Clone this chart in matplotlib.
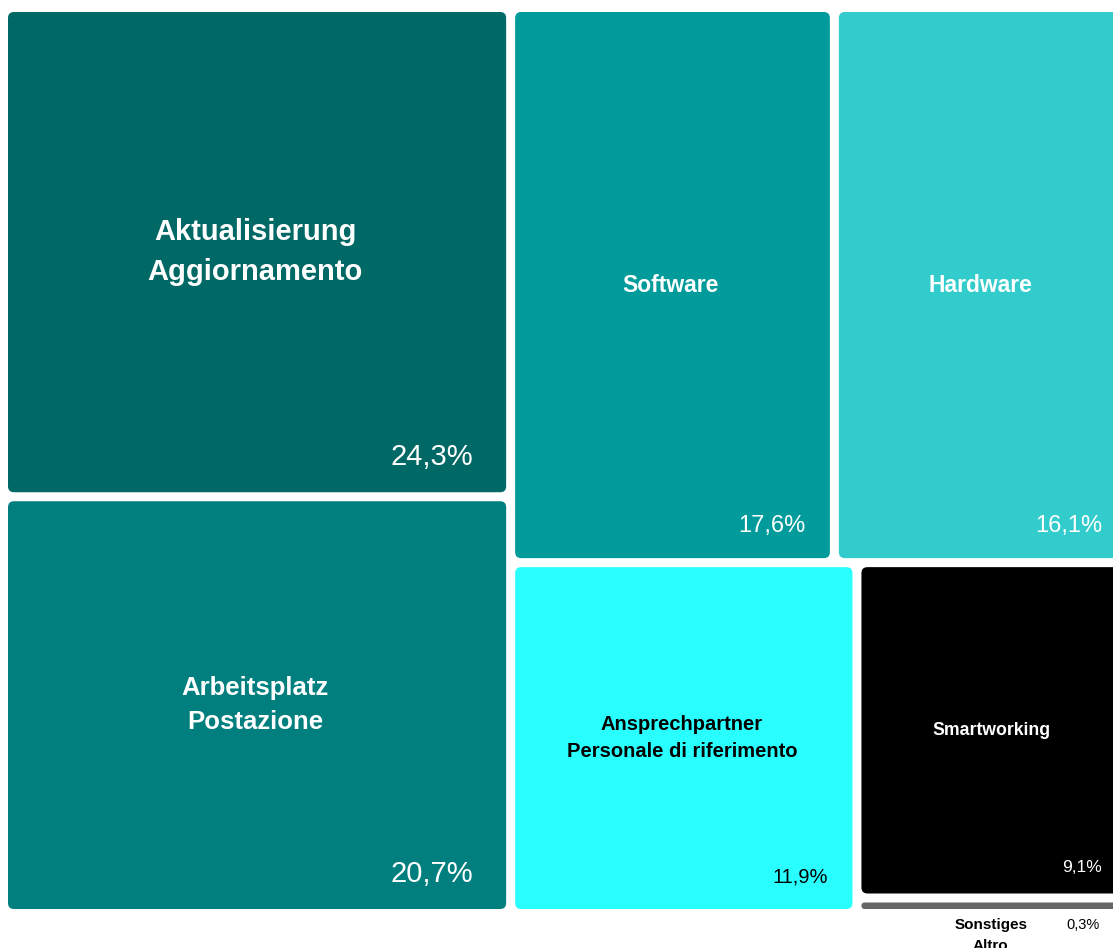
import matplotlib
matplotlib.use("Agg")
import matplotlib.pyplot as plt
from matplotlib.patches import FancyBboxPatch

plt.rcParams['font.family'] = ['Liberation Sans', 'DejaVu Sans']

# categories (German / Italian) and shares in percent
labels = [
    "Aktualisierung\nAggiornamento",
    "Arbeitsplatz\nPostazione",
    "Software",
    "Hardware",
    "Ansprechpartner\nPersonale di riferimento",
    "Smartworking",
    "Sonstiges\nAltro",
]
values = [24.3, 20.7, 17.6, 16.1, 11.9, 9.1, 0.3]
pct_labels = ["24,3%", "20,7%", "17,6%", "16,1%", "11,9%", "9,1%", "0,3%"]

colors = ["#006865", "#007f7e", "#009b9a", "#33cccc", "#2affff", "#000000", "#666666"]
text_colors = ["white", "white", "white", "white", "black", "white", "black"]
name_sizes = [21, 18.5, 16.5, 16.5, 14.5, 12.7, 11]
pct_sizes = [21, 21, 17, 17, 14.5, 12.5, 10.5]

# tree structure: (direction, children); leaves are indices into values
# "h" splits along x, "v" splits along y
tree = ("h", [
    ("v", [0, 1]),
    ("v", [
        ("h", [2, 3]),
        ("h", [4, ("v", [5, 6])]),
    ]),
])

MIN_CELL = 15.5  # smallest cell so tiny shares stay visible


def total(node):
    if isinstance(node, int):
        return values[node]
    return sum(total(c) for c in node[1])


def layout(node, x, y, w, h, out):
    if isinstance(node, int):
        out[node] = (x, y, w, h)
        return
    direction, children = node
    sums = [total(c) for c in children]
    length = w if direction == "h" else h
    sizes = [length * s / sum(sums) for s in sums]
    short = sum(max(0, MIN_CELL - s) for s in sizes)
    big = sum(s for s in sizes if s >= MIN_CELL)
    sizes = [MIN_CELL if s < MIN_CELL else s - short * s / big for s in sizes]
    pos = x if direction == "h" else y
    for child, size in zip(children, sizes):
        if direction == "h":
            layout(child, pos, y, size, h, out)
        else:
            layout(child, x, pos, w, size, out)
        pos += size


fig = plt.figure(figsize=(11.13, 9.48), dpi=100)
ax = fig.add_axes([0, 0, 1, 1])
ax.set_xlim(0, 1113)
ax.set_ylim(948, 0)
ax.axis("off")

cells = {}
layout(tree, 3.5, 7.5, 1127, 906, cells)

pad = 4.5
for i in range(len(values)):
    x, y, w, h = cells[i]
    tx, ty, tw, th = x + pad, y + pad, w - 2 * pad, h - 2 * pad
    r = min(6, th / 2)
    ax.add_patch(FancyBboxPatch((tx, ty), tw, th,
                                boxstyle=f"round,pad=0,rounding_size={r}",
                                facecolor=colors[i], edgecolor="none"))
    if th > 40:
        ax.text(tx + tw / 2 - 2, ty + th / 2, labels[i], ha="center",
                va="center", fontsize=name_sizes[i], fontweight="bold",
                color=text_colors[i], linespacing=1.56)
        inset_x = 33 if pct_sizes[i] > 20 else 24
        inset_y = 35 if pct_sizes[i] > 20 else (32 if pct_sizes[i] > 13 else 26)
        ax.text(tx + tw - inset_x, ty + th - inset_y, pct_labels[i], ha="right",
                va="center", fontsize=pct_sizes[i], color=text_colors[i])
    else:
        # too thin for text inside: put it underneath
        ax.text(tx + tw / 2 - 3, ty + th + 9, labels[i], ha="center", va="top",
                fontsize=name_sizes[i], fontweight="bold", color=text_colors[i],
                linespacing=1.6)
        ax.text(tx + tw - 26, ty + th + 9, pct_labels[i], ha="right", va="top",
                fontsize=pct_sizes[i], color=text_colors[i])

fig.savefig("out.png", dpi=100)
